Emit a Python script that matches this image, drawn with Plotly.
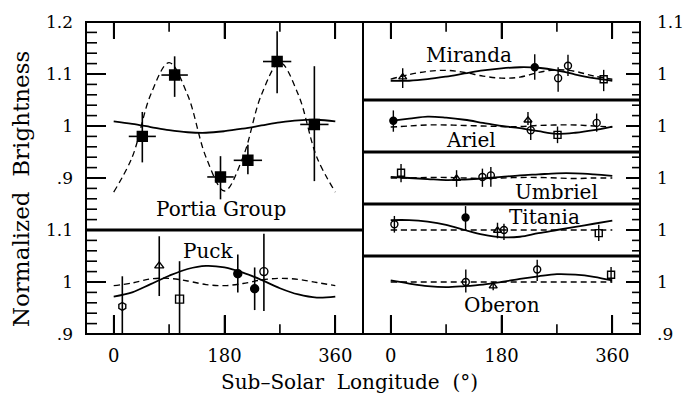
import plotly.graph_objects as go

FONT = "DejaVu Serif"

# ---------------- data ----------------
CURVE_LON = [0, 30, 60, 90, 120, 150, 180, 210, 240, 270, 300, 330, 360]

PORTIA_LON = [46.5, 99, 173.5, 218, 265.5, 326]
PORTIA_VAL = [0.980, 1.098, 0.902, 0.934, 1.124, 1.003]
PORTIA_HI = [1.027, 1.134, 0.942, 0.964, 1.182, 1.115]
PORTIA_LO = [0.930, 1.056, 0.859, 0.907, 1.063, 0.894]
PORTIA_LONERR = [22, 21.5, 21.5, 23, 23, 23]
PORTIA_SOLID = [1.009, 1.004, 0.998, 0.992, 0.988, 0.987, 0.990, 0.995, 1.001, 1.007, 1.011, 1.012, 1.009]
PORTIA_DASHED = [0.873, 0.940, 1.060, 1.122, 1.060, 0.940, 0.875, 0.940, 1.060, 1.122, 1.060, 0.940, 0.873]

PUCK_LON = [14, 74, 107, 201.6, 229, 244]
PUCK_VAL = [0.953, 1.031, 0.967, 1.016, 0.987, 1.020]
PUCK_HI = [1.011, 1.088, 1.040, 1.053, 1.028, 1.093]
PUCK_LO = [0.880, 0.973, 0.880, 0.980, 0.946, 0.944]
PUCK_SYM = ["hexagon-open", "triangle-up-open", "square-open", "circle", "circle", "circle-open"]
PUCK_SOLID = [0.972, 0.980, 0.996, 1.012, 1.025, 1.031, 1.028, 1.018, 1.004, 0.988, 0.976, 0.970, 0.972]
PUCK_DASHED = [0.993, 0.998, 1.006, 1.007, 1.002, 0.995, 0.993, 0.997, 1.004, 1.007, 1.005, 0.999, 0.993]

MIRANDA_LON = [19.5, 234, 272, 288, 346]
MIRANDA_VAL = [0.994, 1.013, 0.992, 1.016, 0.990]
MIRANDA_HI = [1.011, 1.038, 1.013, 1.037, 1.008]
MIRANDA_LO = [0.973, 0.989, 0.966, 0.996, 0.967]
MIRANDA_SYM = ["triangle-up-open", "circle", "circle-open", "circle-open", "square-open"]
MIRANDA_SOLID = [0.987, 0.987, 0.990, 0.995, 1.001, 1.007, 1.011, 1.013, 1.012, 1.007, 0.999, 0.992, 0.987]
MIRANDA_DASHED = [0.990, 0.999, 1.005, 1.007, 1.003, 0.996, 0.992, 0.994, 1.003, 1.008, 1.005, 0.996, 0.990]

ARIEL_LON = [4.3, 223, 227.5, 271, 334.6]
ARIEL_VAL = [1.010, 1.011, 0.992, 0.983, 1.006]
ARIEL_HI = [1.030, 1.027, 1.011, 0.999, 1.024]
ARIEL_LO = [0.989, 1.002, 0.973, 0.967, 0.989]
ARIEL_SYM = ["circle", "triangle-up-open", "circle-open", "square-open", "circle-open"]
ARIEL_SOLID = [1.010, 1.014, 1.018, 1.016, 1.012, 1.006, 1.000, 0.996, 0.990, 0.985, 0.987, 0.992, 0.999]
ARIEL_DASHED = [0.998, 1.000, 1.002, 1.002, 1.001, 1.000, 0.999, 0.999, 1.001, 1.002, 1.002, 1.000, 0.998]

UMBRIEL_LON = [16.8, 107, 149, 162.7]
UMBRIEL_VAL = [1.010, 0.999, 1.002, 1.005]
UMBRIEL_HI = [1.027, 1.015, 1.018, 1.021]
UMBRIEL_LO = [0.992, 0.983, 0.983, 0.983]
UMBRIEL_SYM = ["square-open", "triangle-up-open", "circle-open", "circle-open"]
UMBRIEL_SOLID = [1.002, 1.000, 0.998, 0.996, 0.997, 0.999, 1.002, 1.005, 1.007, 1.009, 1.009, 1.007, 1.004]
UMBRIEL_DASHED = [1.000, 1.000, 1.001, 1.001, 1.000, 0.999, 1.000, 1.001, 1.001, 1.000, 0.999, 1.000, 1.000]

TITANIA_LON = [6, 121.6, 173.5, 184, 338]
TITANIA_VAL = [1.011, 1.024, 0.999, 1.000, 0.994]
TITANIA_HI = [1.027, 1.046, 1.014, 1.012, 1.010]
TITANIA_LO = [0.995, 1.000, 0.984, 0.981, 0.979]
TITANIA_SYM = ["circle-open", "circle", "triangle-up-open", "circle-open", "square-open"]
TITANIA_SOLID = [1.019, 1.019, 1.016, 1.010, 1.000, 0.991, 0.986, 0.987, 0.994, 1.000, 1.006, 1.012, 1.018]
TITANIA_DASHED = [1.000] * 13

OBERON_LON = [122, 166.5, 238, 358]
OBERON_VAL = [1.000, 0.992, 1.024, 1.014]
OBERON_HI = [1.024, 1.000, 1.043, 1.029]
OBERON_LO = [0.980, 0.984, 1.002, 0.999]
OBERON_SYM = ["circle-open", "triangle-up-open", "circle-open", "square-open"]
OBERON_SOLID = [1.003, 0.997, 0.992, 0.990, 0.992, 0.995, 1.000, 1.006, 1.011, 1.015, 1.014, 1.010, 1.003]
OBERON_DASHED = [1.000] * 13

# axis tick values
X_MAJOR = [0, 180, 360]
X_MINOR = [90, 270]

# panel y ranges
LEFT_RANGES = [[0.8, 1.2], [0.9, 1.1]]
RIGHT_RANGES = [[0.95, 1.1], [0.95, 1.05], [0.95, 1.05], [0.95, 1.05], [0.9, 1.05]]
X_RANGE = [-45, 405]

W, H = 699, 395
ML, MR, MT, MB = 86, 59, 17, 61
PW = W - ML - MR
PH = H - MT - MB

fig = go.Figure()


def domains(ranges):
    spans = [r[1] - r[0] for r in ranges]
    tot = sum(spans)
    out = []
    top = 1.0
    for s in spans:
        bot = top - s / tot
        out.append([max(bot, 0), top])
        top = bot
    out[-1][0] = 0
    return out


LD = domains(LEFT_RANGES)
RD = domains(RIGHT_RANGES)


def curves(xa, ya, solid, dashed, dwidth=1.4):
    fig.add_trace(go.Scatter(x=CURVE_LON, y=solid, mode="lines", xaxis=xa, yaxis=ya,
                             line=dict(color="black", width=1.8, shape="spline"),
                             showlegend=False, hoverinfo="skip"))
    fig.add_trace(go.Scatter(x=CURVE_LON, y=dashed, mode="lines", xaxis=xa, yaxis=ya,
                             line=dict(color="black", width=dwidth, dash="6px,4px", shape="spline"),
                             showlegend=False, hoverinfo="skip"))


def points(xa, ya, lon, val, hi, lo, sym, size=7, lonerr=None, ew=1.4):
    ex = None
    if lonerr is not None:
        ex = dict(type="data", array=lonerr, color="black", thickness=ew, width=0)
    fig.add_trace(go.Scatter(
        x=lon, y=val, mode="markers", xaxis=xa, yaxis=ya,
        marker=dict(symbol=sym, size=size, color="black", line=dict(color="black", width=1.4)),
        error_y=dict(type="data", symmetric=False,
                     array=[h - v for h, v in zip(hi, val)],
                     arrayminus=[v - l for v, l in zip(val, lo)],
                     color="black", thickness=ew, width=0),
        error_x=ex, showlegend=False))


# ---- tick marks as paper-space shapes, positioned through the axis scales ----
tick_shapes = []


def xpaper(col, v):
    return col * 0.5 + (v - X_RANGE[0]) / float(X_RANGE[1] - X_RANGE[0]) * 0.5


def ypaper(dom, rng, v):
    return dom[0] + (v - rng[0]) / float(rng[1] - rng[0]) * (dom[1] - dom[0])


def add_tick(x0, y0, x1, y1, w=1.6):
    tick_shapes.append(dict(type="line", xref="paper", yref="paper", x0=x0, y0=y0, x1=x1, y1=y1,
                            line=dict(color="black", width=w)))


def y_ticks(col, dom, rng, side, major_px, minor_px):
    lo, hi = int(round(rng[0] * 100)), int(round(rng[1] * 100))
    for n in range(lo, hi + 1):
        if n % 2:
            continue
        yp = ypaper(dom, rng, n / 100.0)
        L = (major_px if n % 10 == 0 else minor_px) / float(PW)
        if side == "left":
            xe = col * 0.5
            add_tick(xe, yp, xe + L, yp)
        else:
            xe = col * 0.5 + 0.5
            add_tick(xe, yp, xe - L, yp)


def x_ticks(col, dom, where, major_px, minor_px):
    for v in X_MAJOR + X_MINOR:
        xp = xpaper(col, v)
        L = (major_px if v in X_MAJOR else minor_px) / float(PH)
        if where == "bottom":
            add_tick(xp, dom[0], xp, dom[0] + L)
        else:
            add_tick(xp, dom[1], xp, dom[1] - L)


# left column: Portia on top x-axis (x3), Puck on bottom x-axis (x)
curves("x3", "y", PORTIA_SOLID, PORTIA_DASHED, dwidth=1.3)
points("x3", "y", PORTIA_LON, PORTIA_VAL, PORTIA_HI, PORTIA_LO, "square", size=10,
       lonerr=PORTIA_LONERR, ew=1.6)
curves("x", "y2", PUCK_SOLID, PUCK_DASHED)
points("x", "y2", PUCK_LON, PUCK_VAL, PUCK_HI, PUCK_LO, PUCK_SYM, size=8, ew=1.6)
y_ticks(0, LD[0], LEFT_RANGES[0], "left", 20, 11)
y_ticks(0, LD[1], LEFT_RANGES[1], "left", 20, 11)
x_ticks(0, LD[0], "top", 17, 10)
x_ticks(0, LD[1], "bottom", 19, 10)

# right column: Miranda on top x-axis (x4), the rest on bottom x-axis (x2)
right = [
    (MIRANDA_LON, MIRANDA_VAL, MIRANDA_HI, MIRANDA_LO, MIRANDA_SYM, MIRANDA_SOLID, MIRANDA_DASHED),
    (ARIEL_LON, ARIEL_VAL, ARIEL_HI, ARIEL_LO, ARIEL_SYM, ARIEL_SOLID, ARIEL_DASHED),
    (UMBRIEL_LON, UMBRIEL_VAL, UMBRIEL_HI, UMBRIEL_LO, UMBRIEL_SYM, UMBRIEL_SOLID, UMBRIEL_DASHED),
    (TITANIA_LON, TITANIA_VAL, TITANIA_HI, TITANIA_LO, TITANIA_SYM, TITANIA_SOLID, TITANIA_DASHED),
    (OBERON_LON, OBERON_VAL, OBERON_HI, OBERON_LO, OBERON_SYM, OBERON_SOLID, OBERON_DASHED),
]
for i, (lon, val, hi, lo, sym, so, da) in enumerate(right):
    ya = "y%d" % (i + 3)
    xa = "x4" if i == 0 else "x2"
    curves(xa, ya, so, da)
    points(xa, ya, lon, val, hi, lo, sym, size=7)
    y_ticks(1, RD[i], RIGHT_RANGES[i], "right", 14, 8)
x_ticks(1, RD[0], "top", 17, 10)
x_ticks(1, RD[-1], "bottom", 19, 10)

tickfont = dict(family=FONT, size=17, color="black")

ax_common = dict(showgrid=False, zeroline=False, ticks="inside",
                 tickcolor="black", tickwidth=1.6)

xmain = dict(**ax_common, range=X_RANGE, tickvals=X_MAJOR, ticktext=[str(v) for v in X_MAJOR],
             ticklen=19, tickfont=dict(family=FONT, size=18, color="black"), ticklabelstandoff=9)
xtop = dict(**ax_common, range=X_RANGE, tickvals=X_MAJOR, ticklen=17, showticklabels=False,
            side="top")

layout = dict(
    width=W, height=H,
    margin=dict(l=ML, r=MR, t=MT, b=MB),
    paper_bgcolor="white", plot_bgcolor="white",
    showlegend=False,
    xaxis=dict(**xmain, domain=[0, 0.5], anchor="y2"),
    xaxis2=dict(**xmain, domain=[0.5, 1], anchor="y7"),
    xaxis3=dict(**xtop, domain=[0, 0.5], anchor="y", matches="x"),
    xaxis4=dict(**xtop, domain=[0.5, 1], anchor="y3", matches="x2"),
)


def ylab(v):
    s = ("%g" % v)
    if s.startswith("0."):
        s = s[1:]
    return s


left_ticks = [[0.9, 1.0, 1.1, 1.2], [0.9, 1.0, 1.1]]
for i, (rng, dom) in enumerate(zip(LEFT_RANGES, LD)):
    key = "yaxis" if i == 0 else "yaxis2"
    tv = left_ticks[i]
    layout[key] = dict(**ax_common, range=rng, domain=dom,
                       anchor="x3" if i == 0 else "x", side="left",
                       tickvals=tv, ticktext=[ylab(v) for v in tv],
                       ticklen=20, tickfont=tickfont, ticklabelstandoff=12)

right_ticks = [[1.0, 1.1], [1.0], [1.0], [1.0], [0.9, 1.0]]
for i, (rng, dom) in enumerate(zip(RIGHT_RANGES, RD)):
    key = "yaxis%d" % (i + 3)
    tv = right_ticks[i]
    layout[key] = dict(**ax_common, range=rng, domain=dom,
                       anchor="x4" if i == 0 else "x2", side="right",
                       tickvals=tv, ticktext=[ylab(v) for v in tv],
                       ticklen=14, tickfont=tickfont, ticklabelstandoff=16)

fig.update_layout(**layout)

# frame lines
shapes = [
    dict(type="rect", xref="paper", yref="paper", x0=0, x1=1, y0=0, y1=1,
         line=dict(color="black", width=2)),
    dict(type="line", xref="paper", yref="paper", x0=0.5, x1=0.5, y0=0, y1=1,
         line=dict(color="black", width=2)),
]
for d in LD[:-1]:
    shapes.append(dict(type="line", xref="paper", yref="paper", x0=0, x1=0.5, y0=d[0], y1=d[0],
                       line=dict(color="black", width=3)))
for d in RD[:-1]:
    shapes.append(dict(type="line", xref="paper", yref="paper", x0=0.5, x1=1, y0=d[0], y1=d[0],
                       line=dict(color="black", width=3)))
fig.update_layout(shapes=shapes + tick_shapes)

labfont = dict(family=FONT, size=20, color="black")
labels = [
    ("Portia Group", "x3", "y", 175, 0.84),
    ("Puck", "x", "y2", 154, 1.06),
    ("Miranda", "x4", "y3", 128, 1.0375),
    ("Ariel", "x2", "y4", 130, 0.973),
    ("Umbriel", "x2", "y5", 270, 0.973),
    ("Titania", "x2", "y6", 250, 1.025),
    ("Oberon", "x2", "y7", 180, 0.955),
]
ann = []
for t, xr, yr, xv, yv in labels:
    ann.append(dict(text=t, xref=xr, yref=yr, x=xv, y=yv, showarrow=False, font=labfont,
                    xanchor="center", yanchor="middle"))
ann.append(dict(text="Sub\u2013Solar  Longitude  (\u00b0)", xref="paper", yref="paper",
                x=0.4765, y=-0.155, showarrow=False, font=labfont,
                xanchor="center", yanchor="middle"))
ann.append(dict(text="Normalized  Brightness", xref="paper", yref="paper",
                x=-0.117, y=0.465, showarrow=False, font=dict(family=FONT, size=23, color="black"),
                textangle=-90, xanchor="center", yanchor="middle"))
fig.update_layout(annotations=ann)

fig.write_html("out.html")
